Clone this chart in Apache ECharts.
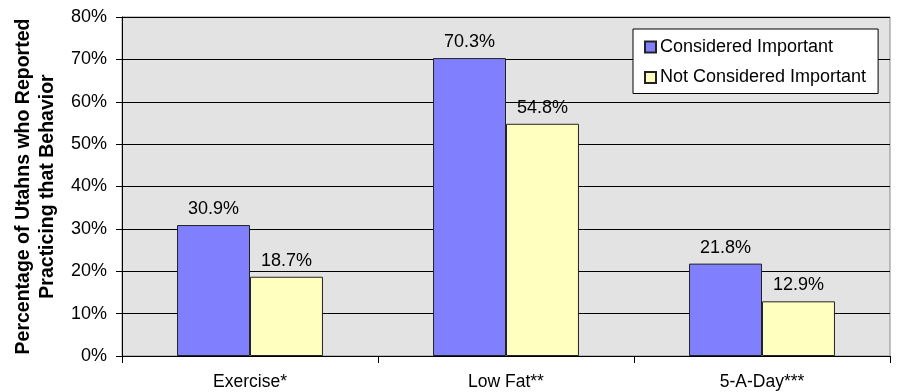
<!DOCTYPE html>
<html>
<head>
<meta charset="utf-8">
<script src="https://cdn.jsdelivr.net/npm/echarts@6/dist/echarts.min.js"></script>
<style>
  html, body { margin: 0; padding: 0; background: #fff; }
  #chart { width: 907px; height: 392px; }
</style>
</head>
<body>
<div id="chart"></div>
<script>
// Behaviours surveyed
const categories = ['Exercise*', 'Low Fat**', '5-A-Day***'];
// Percent practicing the behaviour, by whether it was considered important
const consideredImportant = [30.9, 70.3, 21.8];
const notConsideredImportant = [18.7, 54.8, 12.9];
const seriesNames = ['Considered Important', 'Not Considered Important'];
const yTicks = { min: 0, max: 80, interval: 10 };

const FONT = 'Liberation Sans, Arial, sans-serif';

const chart = echarts.init(document.getElementById('chart'), null, { renderer: 'canvas' });

const labelStyle = {
  show: true,
  position: 'top',
  distance: 7,
  color: '#000',
  fontFamily: FONT,
  fontSize: 18,
  formatter: p => p.value.toFixed(1) + '%'
};

chart.setOption({
  animation: false,
  backgroundColor: '#fff',
  grid: {
    left: 122, right: 17, top: 17, bottom: 36,
    outerBoundsMode: 'none',
    containLabel: false,
    show: true,
    backgroundColor: '#e3e3e3',
    borderColor: '#8a8a8a',
    borderWidth: 1
  },
  legend: {
    orient: 'vertical',
    left: 633,
    top: 29,
    padding: [9, 12, 7, 11],
    itemGap: 12.5,
    itemWidth: 11,
    itemHeight: 11,
    backgroundColor: '#fff',
    borderColor: '#000',
    borderWidth: 1,
    borderRadius: 0,
    icon: 'rect',
    textStyle: { fontFamily: FONT, fontSize: 18, color: '#000', padding: [0, 0, 0, -1] },
    data: seriesNames
  },
  xAxis: {
    type: 'category',
    data: categories,
    axisLine: { show: true, lineStyle: { color: '#000', width: 1 } },
    axisTick: { show: true, alignWithLabel: false, length: 7, lineStyle: { color: '#000' } },
    axisLabel: { margin: 17, color: '#000', fontFamily: FONT, fontSize: 17.5 },
    splitLine: { show: false }
  },
  yAxis: {
    type: 'value',
    min: yTicks.min,
    max: yTicks.max,
    interval: yTicks.interval,
    name: 'Percentage of Utahns who Reported\nPracticing that Behavior',
    nameLocation: 'middle',
    nameGap: 61,
    nameRotate: 90,
    nameTextStyle: {
      fontFamily: FONT, fontSize: 19.5, fontWeight: 'bold', color: '#000',
      lineHeight: 24, align: 'center'
    },
    axisLine: { show: true, lineStyle: { color: '#000', width: 1 } },
    axisTick: { show: true, length: 6, lineStyle: { color: '#000' } },
    axisLabel: { margin: 15, color: '#000', fontFamily: FONT, fontSize: 18, formatter: '{value}%' },
    splitLine: { show: true, lineStyle: { color: '#000', width: 1 } }
  },
  series: [
    {
      name: seriesNames[0],
      type: 'bar',
      data: consideredImportant,
      barGap: '0%',
      barCategoryGap: '43%',
      itemStyle: { color: '#8080ff', borderColor: '#222', borderWidth: 1 },
      label: labelStyle
    },
    {
      name: seriesNames[1],
      type: 'bar',
      data: notConsideredImportant,
      itemStyle: { color: '#ffffc0', borderColor: '#222', borderWidth: 1 },
      label: labelStyle
    }
  ]
});
</script>
</body>
</html>
